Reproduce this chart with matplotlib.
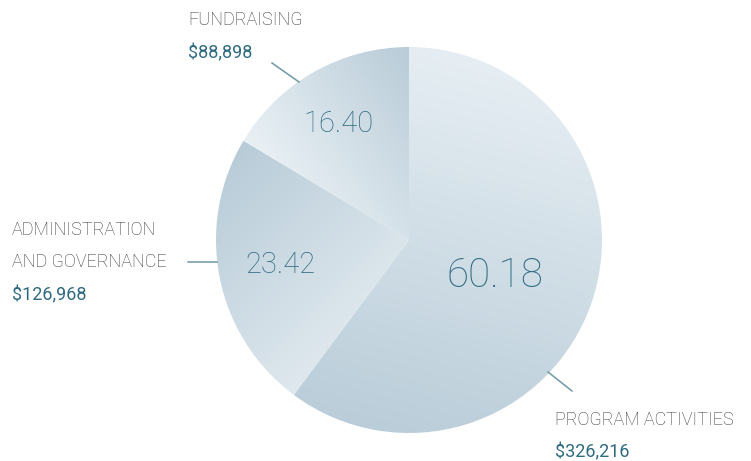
import numpy as np
import matplotlib
matplotlib.use('Agg')
import matplotlib.pyplot as plt
from matplotlib.patches import Wedge

# Expense breakdown
categories = ['PROGRAM ACTIVITIES', 'ADMINISTRATION\nAND GOVERNANCE', 'FUNDRAISING']
amounts = [326216, 126968, 88898]
shares = [60.18, 23.42, 16.40]

# gradient per slice: (dark colour, light colour, direction dark->light in degrees)
grad_dark = ['#bacdd9', '#b8ccd8', '#b9ccd8']
grad_light = ['#e6eef3', '#dfe8ee', '#eaf1f5']
grad_dir = [75, -45, 215]

label_color = '#383838'
value_color = '#2f6b80'

plt.rcParams['font.family'] = ['Roboto', 'DejaVu Sans']

W, H = 751, 461
fig = plt.figure(figsize=(W / 100, H / 100), dpi=100)
ax = fig.add_axes([0, 0, 1, 1])
ax.set_xlim(0, W)
ax.set_ylim(0, H)
ax.axis('off')

cx, cy, r = 409, H - 240, 193

def to_rgb(h):
    return np.array(matplotlib.colors.to_rgb(h))

start = 90.0
total = sum(amounts)
for i, amt in enumerate(amounts):
    sweep = 360.0 * amt / total
    t1, t2 = start - sweep, start
    wedge = Wedge((cx, cy), r, t1, t2, facecolor='none', edgecolor='none')
    ax.add_patch(wedge)

    # gradient image clipped to the wedge
    n = 300
    xs = np.linspace(cx - r, cx + r, n)
    ys = np.linspace(cy - r, cy + r, n)
    X, Y = np.meshgrid(xs, ys)
    d = np.deg2rad(grad_dir[i])
    proj = (X - cx) * np.cos(d) + (Y - cy) * np.sin(d)
    # normalise over the wedge's own points
    ang = np.degrees(np.arctan2(Y - cy, X - cx))
    inside = np.hypot(X - cx, Y - cy) <= r
    inside &= ((ang - t1) % 360) <= sweep
    p = proj[inside]
    tt = np.clip((proj - p.min()) / (p.max() - p.min()), 0, 1)[..., None]
    img = to_rgb(grad_dark[i]) * (1 - tt) + to_rgb(grad_light[i]) * tt
    im = ax.imshow(img, extent=(cx - r, cx + r, cy - r, cy + r), origin='lower',
                   interpolation='bilinear', zorder=1)
    im.set_clip_path(wedge)
    start = t1

# slice values
val_pos = [(495, 276, 29), (280, 265, 21), (338, 124, 21)]
for i, (x, y, fs) in enumerate(val_pos):
    ax.text(x, H - y, f'{shares[i]:.2f}', color=value_color, fontsize=fs,
            fontweight='light', ha='center', va='center', zorder=3)

# leader lines
lines = [((548, 372), (572, 391)), ((188, 262), (217, 262)), ((272, 63), (299, 82))]
for (x1, y1), (x2, y2) in lines:
    ax.plot([x1, x2], [H - y1, H - y2], color='#6f97a8', lw=1.1, zorder=2)

# category labels
lab_pos = [(555, 420), (12, 230), (188, 20)]
amt_pos = [(555, 452), (12, 295), (188, 53)]
for i in range(3):
    x, y = lab_pos[i]
    for k, t in enumerate(categories[i].split('\n')):
        ax.text(x, H - (y + 32 * k), t, color=label_color, fontsize=13,
                fontweight='light', ha='left', va='center')
    ax.text(amt_pos[i][0], H - amt_pos[i][1], f'${amounts[i]:,}', color=value_color,
            fontsize=13, ha='left', va='center')

fig.savefig('out.png', dpi=100, facecolor='white')
